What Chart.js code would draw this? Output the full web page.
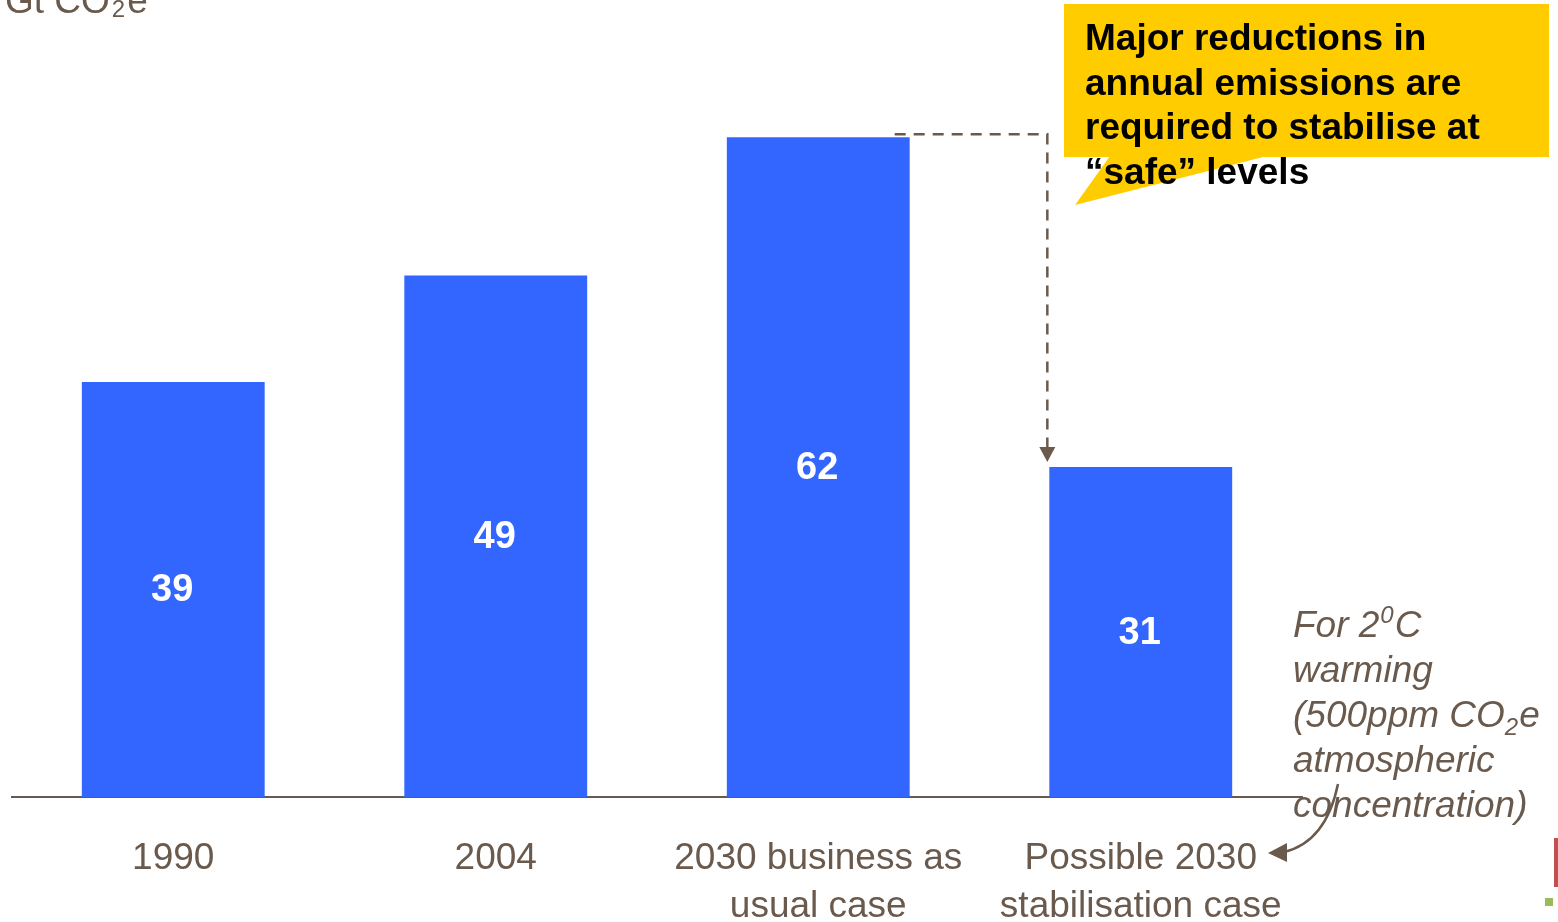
<!DOCTYPE html>
<html><head><meta charset="utf-8">
<script src="https://cdn.jsdelivr.net/npm/chart.js@4.4.0/dist/chart.umd.min.js"></script>
<style>html,body{margin:0;padding:0;background:#fff;overflow:hidden}#wrap{width:1558px;height:922px;position:relative}</style>
</head><body><div id="wrap"><canvas id="c"></canvas></div>
<script>
const categories = [["1990"], ["2004"], ["2030 business as", "usual case"], ["Possible 2030", "stabilisation case"]];
const emissions = [39, 49, 62, 31];
const unitLabel = ["Gt CO", "2", "e"];
const calloutLines = ["Major reductions in", "annual emissions are", "required to stabilise at", "\u201Csafe\u201D levels"];
const yMin = 0, yMax = 70;

const FONT = '"Liberation Sans", Arial, Helvetica, sans-serif';
const BROWN = '#6a5a4d';
const BLUE = '#3366ff';

const decor = {
  id: 'decor',
  afterDatasetsDraw(chart) {
    const ctx = chart.ctx;
    const meta = chart.getDatasetMeta(0);
    ctx.save();
    ctx.fillStyle = '#ffffff';
    ctx.font = 'bold 38px ' + FONT;
    ctx.textAlign = 'center';
    ctx.textBaseline = 'middle';
    meta.data.forEach((bar, i) => {
      const base = bar.base;
      ctx.fillText(String(emissions[i]), bar.x - 1, (bar.y + base) / 2 + 1);
    });
    ctx.restore();
  },
  afterDraw(chart) {
    const ctx = chart.ctx;
    const meta = chart.getDatasetMeta(0);
    ctx.save();
    // unit label (cut off at top)
    ctx.fillStyle = BROWN;
    ctx.textBaseline = 'alphabetic';
    ctx.textAlign = 'left';
    ctx.font = '37px ' + FONT;
    ctx.fillText(unitLabel[0], 5, 13);
    let w = ctx.measureText(unitLabel[0]).width;
    ctx.font = '24px ' + FONT;
    ctx.fillText(unitLabel[1], 5 + w + 2, 17);
    let w2 = ctx.measureText(unitLabel[1]).width;
    ctx.font = '37px ' + FONT;
    ctx.fillText(unitLabel[2], 5 + w + 2 + w2 + 2, 13);

    // dashed connector from bar 3 to bar 4
    const b3 = meta.data[2], b4 = meta.data[3];
    const x0 = b3.x + b3.width / 2 - 15;
    const yTop = b3.y - 3;
    const xC = b4.x - b4.width / 2 - 2;
    const yTip = b4.y - 5;
    ctx.strokeStyle = BROWN;
    ctx.lineWidth = 2.5;
    ctx.setLineDash([11, 8]);
    ctx.beginPath();
    ctx.moveTo(x0, yTop);
    ctx.lineTo(xC, yTop);
    ctx.lineTo(xC, yTip - 14);
    ctx.stroke();
    ctx.setLineDash([]);
    ctx.fillStyle = BROWN;
    ctx.beginPath();
    ctx.moveTo(xC - 8, yTip - 15);
    ctx.lineTo(xC + 8, yTip - 15);
    ctx.lineTo(xC, yTip);
    ctx.closePath();
    ctx.fill();

    // callout
    ctx.fillStyle = '#ffcc00';
    ctx.fillRect(1064, 4, 485, 153);
    ctx.beginPath();
    ctx.moveTo(1110, 156);
    ctx.lineTo(1267, 156);
    ctx.lineTo(1075, 205);
    ctx.closePath();
    ctx.fill();
    ctx.fillStyle = '#000000';
    ctx.font = 'bold 37px ' + FONT;
    ctx.textAlign = 'left';
    ctx.textBaseline = 'alphabetic';
    calloutLines.forEach((t, i) => ctx.fillText(t, 1085, 50 + i * 44.5));

    // right italic note
    ctx.fillStyle = BROWN;
    const it = 'italic 37px ' + FONT;
    const itS = 'italic 24px ' + FONT;
    const X = 1293;
    ctx.font = it;
    ctx.fillText('For 2', X, 637);
    let a = ctx.measureText('For 2').width;
    ctx.font = itS;
    ctx.fillText('0', X + a + 1, 623);
    let b = ctx.measureText('0').width;
    ctx.font = it;
    ctx.fillText('C', X + a + b + 2, 637);
    ctx.fillText('warming', X, 682);
    ctx.fillText('(500ppm CO', X, 727);
    a = ctx.measureText('(500ppm CO').width;
    ctx.font = itS;
    ctx.fillText('2', X + a, 735);
    b = ctx.measureText('2').width;
    ctx.font = it;
    ctx.fillText('e', X + a + b + 1, 727);
    ctx.fillText('atmospheric', X, 772);
    ctx.fillText('concentration)', X, 817);

    // curved arrow
    ctx.strokeStyle = BROWN;
    ctx.lineWidth = 2.5;
    ctx.beginPath();
    ctx.moveTo(1338, 784);
    ctx.quadraticCurveTo(1326, 842, 1284, 852);
    ctx.stroke();
    ctx.beginPath();
    ctx.moveTo(1268, 853);
    ctx.lineTo(1287, 843);
    ctx.lineTo(1287, 862);
    ctx.closePath();
    ctx.fill();

    // slide edge decorations
    ctx.fillStyle = '#c0504d';
    ctx.fillRect(1554, 838, 4, 49);
    ctx.fillStyle = '#9bbb59';
    ctx.fillRect(1545, 898, 8, 8);
    ctx.restore();
  }
};

new Chart(document.getElementById('c'), {
  type: 'bar',
  data: {
    labels: categories,
    datasets: [{
      data: emissions,
      backgroundColor: BLUE,
      borderWidth: 0,
      categoryPercentage: 1.0,
      barPercentage: 0.567
    }]
  },
  options: {
    responsive: true,
    maintainAspectRatio: false,
    animation: false,
    layout: { padding: { left: 12, right: 256, top: 52, bottom: 0 } },
    plugins: { legend: { display: false }, tooltip: { enabled: false }, title: { display: false } },
    scales: {
      y: { display: false, min: yMin, max: yMax },
      x: {
        grid: { display: false, drawTicks: false },
        border: { display: true, color: BROWN, width: 2 },
        ticks: { color: BROWN, font: { family: FONT, size: 37, lineHeight: 1.3 }, padding: 38, maxRotation: 0, autoSkip: false },
        afterFit(scale) { scale.height = 125; }
      }
    }
  },
  plugins: [decor]
});
</script>
</body></html>
